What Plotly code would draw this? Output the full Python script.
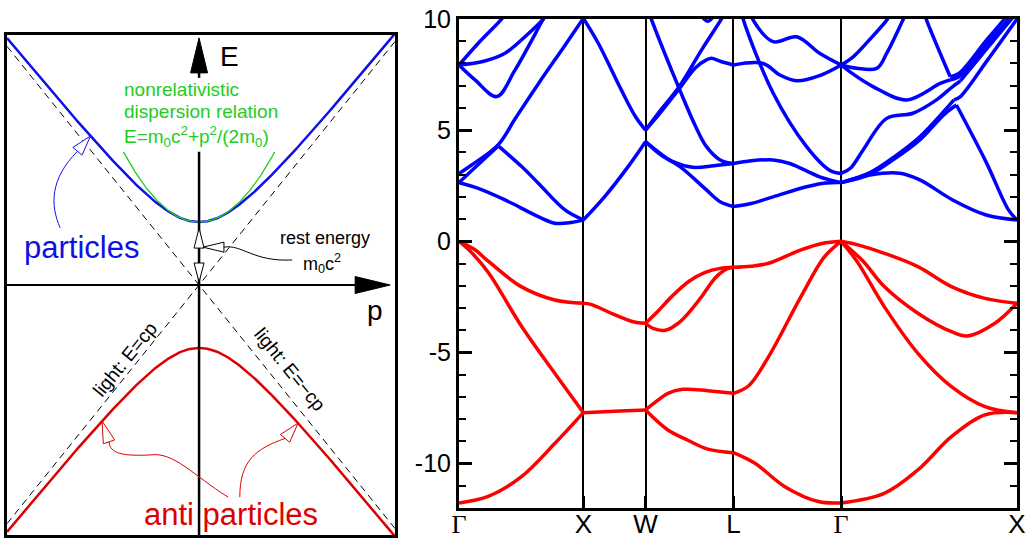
import numpy as np
import plotly.graph_objects as go

W_FIG, H_FIG = 1028, 540

# ---------------- Left panel: relativistic dispersion (schematic) ----------------
rest_energy = 0.261        # m0 c^2 in diagram units
c_light = 1.0
p_lim = [-0.99, 1.01]
E_lim = [-1.037, 1.037]
nonrel_pmax = 0.39

# ---------------- Right panel: band structure ----------------
k_labels = ["Γ", "X", "W", "L", "Γ", "X"]
k_pos = [0.0, 1.0, 1.5, 2.2071, 3.0731, 4.4873]
E_tick_vals = [-10, -5, 0, 5, 10]
E_tick_text = ["-10", "-5", "0", "5", "10"]

# valence bands (k, E) per path segment
vb_GX = [
    [(0, -11.77), (0.23, -11.49), (0.5, -10.6), (0.77, -9.1), (1, -7.71)],
    [(0, 0), (0.1, -0.5), (0.24, -1.44), (0.5, -3.8), (0.77, -5.94), (1, -7.71)],
    [(0, 0), (0.12, -0.35), (0.24, -0.92), (0.5, -2.04), (0.77, -2.64), (1, -2.79)],
]
vb_XW = [
    [(1, -7.71), (1.25, -7.65), (1.5, -7.59)],
    [(1, -2.79), (1.06, -2.84), (1.25, -3.3), (1.4, -3.62), (1.5, -3.69)],
]
vb_WL = [
    [(1.5, -7.59), (1.6, -7.15), (1.68, -6.84), (1.8, -6.66), (2.0, -6.72), (2.2071, -6.84)],
    [(1.5, -7.59), (1.68, -8.49), (1.84, -8.95), (2.0, -9.35), (2.2071, -9.51)],
    [(1.5, -3.69), (1.6, -3.15), (1.71, -2.49), (1.85, -1.8), (1.98, -1.4), (2.1, -1.22), (2.2071, -1.17)],
    [(1.5, -3.69), (1.56, -3.92), (1.66, -4.0), (1.76, -3.7), (1.85, -3.2), (1.95, -2.5), (2.06, -1.65),
     (2.15, -1.25), (2.2071, -1.17)],
]
vb_LG = [
    [(2.2071, -1.17), (2.35, -1.12), (2.49, -0.99), (2.75, -0.39), (2.92, -0.1), (3.0731, 0)],
    [(2.2071, -6.84), (2.33, -6.5), (2.49, -5.19), (2.75, -2.49), (2.94, -0.69), (3.0731, 0)],
    [(2.2071, -9.51), (2.38, -9.99), (2.62, -11.04), (2.89, -11.71), (3.0731, -11.77)],
]
vb_GX2 = [
    [(3.0731, -11.77), (3.42, -11.34), (3.69, -10.29), (3.96, -8.79), (4.23, -7.81), (4.4873, -7.71)],
    [(3.0731, 0), (3.2, -0.9), (3.42, -2.94), (3.69, -5.04), (3.96, -6.54), (4.23, -7.44), (4.4873, -7.71)],
    [(3.0731, 0), (3.25, -0.9), (3.42, -2.04), (3.69, -3.24), (3.96, -4.07), (4.09, -4.26), (4.31, -3.69),
     (4.4873, -2.79)],
    [(3.0731, 0), (3.2, -0.15), (3.42, -0.54), (3.69, -1.14), (3.96, -2.04), (4.23, -2.57), (4.4873, -2.79)],
]

# conduction bands (k, E) per path segment
cb_GX = [
    [(0, 2.64), (0.155, 2.38), (0.37, 1.86), (0.638, 1.11), (0.77, 0.81), (0.9, 0.84), (1, 0.96)],
    [(0, 2.64), (0.155, 3.45), (0.316, 4.29)],
    [(0.316, 4.29), (0.504, 3.36), (0.638, 2.61), (0.852, 1.41), (1, 0.96)],
    [(0, 3.05), (0.102, 3.43), (0.316, 4.35), (0.45, 5.5), (0.64, 7.1), (0.85, 8.8), (1, 10.03)],
    [(0, 7.93), (0.155, 8.91), (0.343, 10.0), (0.38, 10.3)],
    [(0, 7.93), (0.2, 8.1), (0.37, 8.46), (0.55, 9.3), (0.678, 10.0), (0.72, 10.3)],
    [(0, 7.93), (0.129, 7.26), (0.303, 6.51), (0.45, 7.7), (0.678, 10.0), (0.72, 10.4)],
]
cb_XW = [
    [(1, 0.96), (1.17, 2.0), (1.36, 3.36), (1.5, 4.48)],
    [(1, 10.03), (1.12, 8.91), (1.305, 6.81), (1.42, 5.6), (1.5, 5.0)],
]
cb_WL = [
    [(1.5, 5.0), (1.6, 5.65), (1.77, 6.85), (1.9, 7.8), (1.99, 8.16), (2.03, 8.23), (2.1, 8.1), (2.2071, 7.93)],
    [(1.5, 5.0), (1.6, 5.75), (1.77, 6.95), (1.95, 8.6), (2.11, 10.0), (2.15, 10.4)],
    [(1.52, 10.4), (1.546, 10.0), (1.77, 6.88), (1.9, 5.2), (1.99, 4.26), (2.1, 3.66), (2.2071, 3.5)],
    [(1.5, 4.48), (1.616, 3.96), (1.72, 3.58), (1.88, 3.33), (2.05, 3.4), (2.2071, 3.5)],
    [(1.5, 4.48), (1.62, 3.9), (1.777, 3.36), (1.99, 2.31), (2.1, 1.78), (2.2071, 1.56)],
    [(1.93, 10.3), (2.0, 9.9), (2.07, 10.3)],
]
cb_LG = [
    [(2.2071, 1.56), (2.35, 1.7), (2.527, 2.0), (2.795, 2.45), (2.95, 2.62), (3.0731, 2.64)],
    [(2.2071, 3.5), (2.35, 3.62), (2.527, 3.66), (2.66, 3.5), (2.9, 2.9), (3.0731, 2.64)],
    [(2.27, 10.4), (2.285, 10.0), (2.527, 6.66), (2.795, 4.26), (2.98, 3.2), (3.0731, 3.05)],
    [(2.2071, 7.93), (2.446, 8.0), (2.58, 7.48), (2.715, 7.22), (2.9, 7.45), (3.0731, 7.93)],
    [(2.35, 10.2), (2.366, 9.95), (2.527, 8.98), (2.715, 9.2), (2.9, 8.46), (3.0731, 7.93)],
]
cb_GX2 = [
    [(3.0731, 2.64), (3.304, 2.98), (3.545, 3.06), (3.706, 2.76), (3.97, 1.86), (4.24, 1.18), (4.4873, 0.96)],
    [(3.0731, 2.64), (3.3, 3.0), (3.5, 3.7), (3.706, 4.56), (3.9, 5.7), (4.0, 6.13)],
    [(4.0, 6.13), (4.24, 3.55), (4.42, 1.4), (4.4873, 0.96)],
    [(3.0731, 2.64), (3.3, 3.08), (3.5, 3.8), (3.706, 4.7), (3.9, 5.85), (3.98, 6.36)],
    [(3.98, 6.36), (4.03, 6.5), (4.25, 8.15), (4.4873, 10.0)],
    [(3.0731, 3.05), (3.15, 3.3), (3.25, 4.11), (3.44, 5.53), (3.65, 5.76), (3.84, 6.36), (3.97, 6.96), (4.03, 7.2)],
    [(4.03, 7.2), (4.25, 8.7), (4.4873, 10.3)],
    [(3.0731, 7.93), (3.15, 7.6), (3.33, 6.96), (3.6, 6.36), (3.87, 7.1), (3.95, 7.26)],
    [(3.95, 7.26), (4.02, 7.4), (4.25, 8.9), (4.4873, 10.4)],
    [(3.74, 10.3), (3.76, 9.95), (3.95, 7.4)],
    [(3.95, 7.4), (4.02, 7.55), (4.25, 9.1), (4.45, 10.4)],
    [(3.0731, 7.93), (3.2, 7.78), (3.36, 7.78), (3.44, 8.46), (3.57, 9.95), (3.6, 10.3)],
    [(3.0731, 7.93), (3.17, 8.3), (3.3, 9.06), (3.44, 9.95), (3.48, 10.3)],
]

valence = vb_GX + vb_XW + vb_WL + vb_LG + vb_GX2
conduction = cb_GX + cb_XW + cb_WL + cb_LG + cb_GX2

BLUE = "#0000ff"
RED = "#ff0000"
DBLUE = "#1010e6"
DRED = "#dd0000"
GREEN = "#22cc22"
FONT = "Liberation Sans, Arial, sans-serif"

# layout geometry (paper fractions)
L_DOM_X = [7 / W_FIG, 395 / W_FIG]
L_DOM_Y = [1 - 535 / H_FIG, 1 - 35 / H_FIG]
R_DOM_X = [459 / W_FIG, 1017 / W_FIG]
R_DOM_Y = [1 - 508 / H_FIG, 1 - 19 / H_FIG]

# pixel per data unit in left panel (for arrow-head geometry)
sx = (L_DOM_X[1] - L_DOM_X[0]) * W_FIG / (p_lim[1] - p_lim[0])
sy = (L_DOM_Y[1] - L_DOM_Y[0]) * H_FIG / (E_lim[1] - E_lim[0])


def join(curves):
    xs, ys = [], []
    for c in curves:
        for k, e in c:
            xs.append(k)
            ys.append(e)
        xs.append(None)
        ys.append(None)
    return xs, ys


fig = go.Figure()

# ----- left panel traces -----
p = np.linspace(p_lim[0], p_lim[1], 400)
E_part = np.sqrt(rest_energy ** 2 + (c_light * p) ** 2)
fig.add_trace(go.Scatter(x=[p_lim[0], p_lim[1]], y=[c_light * p_lim[0], c_light * p_lim[1]], mode="lines",
                         line=dict(color="black", width=1, dash="7px,5px"), xaxis="x", yaxis="y"))
fig.add_trace(go.Scatter(x=[p_lim[0], p_lim[1]], y=[-c_light * p_lim[0], -c_light * p_lim[1]], mode="lines",
                         line=dict(color="black", width=1, dash="7px,5px"), xaxis="x", yaxis="y"))
fig.add_trace(go.Scatter(x=p, y=E_part, mode="lines", line=dict(color=DBLUE, width=2.5), xaxis="x", yaxis="y"))
fig.add_trace(go.Scatter(x=p, y=-E_part, mode="lines", line=dict(color=DRED, width=2.5), xaxis="x", yaxis="y"))
pn = np.linspace(-nonrel_pmax, nonrel_pmax, 200)
E_nonrel = rest_energy + pn ** 2 / (2 * rest_energy)
fig.add_trace(go.Scatter(x=pn, y=E_nonrel, mode="lines", line=dict(color=GREEN, width=1.3), xaxis="x", yaxis="y"))

# ----- right panel traces -----
xv, yv = join(valence)
xc, yc = join(conduction)
fig.add_trace(go.Scatter(x=xv, y=yv, mode="lines", line=dict(color=RED, width=3.5, shape="spline", smoothing=1),
                         xaxis="x2", yaxis="y2"))
fig.add_trace(go.Scatter(x=xc, y=yc, mode="lines", line=dict(color=BLUE, width=3.5, shape="spline", smoothing=1),
                         xaxis="x2", yaxis="y2"))

# ----- left panel decorations -----
shapes = []


def seg(x0, y0, x1, y1, color="black", width=2):
    shapes.append(dict(type="line", xref="x", yref="y", x0=x0, y0=y0, x1=x1, y1=y1,
                       line=dict(color=color, width=width)))


def head(tip, direction, length, half, color, fill):
    d = np.array(direction, float)
    d /= np.linalg.norm(d)
    n = np.array([-d[1], d[0]])
    bx, by = tip[0] - d[0] * length / sx, tip[1] - d[1] * length / sy
    ax_, ay_ = bx + n[0] * half / sx, by + n[1] * half / sy
    cx_, cy_ = bx - n[0] * half / sx, by - n[1] * half / sy
    shapes.append(dict(type="path", xref="x", yref="y",
                       path=f"M {tip[0]},{tip[1]} L {ax_},{ay_} L {cx_},{cy_} Z",
                       line=dict(color=color, width=1), fillcolor=fill))
    return bx, by


def bez(pts, color, width=1):
    s = f"M {pts[0][0]},{pts[0][1]}"
    for i in range(1, len(pts), 3):
        s += f" C {pts[i][0]},{pts[i][1]} {pts[i+1][0]},{pts[i+1][1]} {pts[i+2][0]},{pts[i+2][1]}"
    shapes.append(dict(type="path", xref="x", yref="y", path=s, line=dict(color=color, width=width)))


# axes of the diagram
E_top_line = rest_energy + nonrel_pmax ** 2 / (2 * rest_energy)
seg(0, E_lim[0], 0, E_top_line, width=2.5)
seg(0, 0.859, 0, 0.885, width=2.5)
seg(p_lim[0], 0, 0.81, 0, width=2)
head((0, 1.025), (0, 1), 35, 8.5, "black", "black")
head((0.985, 0), (1, 0), 35, 8.5, "black", "black")

# rest energy double arrow and pointer
head((0, rest_energy - 6 / sy), (0, 1), 20, 5, "black", "white")
head((0, 3 / sy), (0, -1), 19, 5, "black", "white")
rb = head((0.02, 0.157), (-1, 0), 21, 5, "black", "white")
bez([rb, (0.22, 0.17), (0.28, 0.095), (0.48, 0.104)], "black")

# particles arrow
p_b = -0.56
tipb = (p_b, float(np.sqrt(rest_energy ** 2 + p_b ** 2)))
bb = head(tipb, (0.648, 0.762), 20, 6, DBLUE, "white")
bez([bb, (-0.768, 0.44), (-0.768, 0.332), (-0.716, 0.237)], DBLUE)

# antiparticles arrows
p_l = -0.50
tipl = (p_l, -float(np.sqrt(rest_energy ** 2 + p_l ** 2)))
bl = head(tipl, (-0.316, 0.949), 22, 6, DRED, "white")
bez([bl, (-0.46, -0.7), (-0.39, -0.71), (-0.253, -0.705),
     (-0.13, -0.69), (-0.03, -0.79), (0.15, -0.88)], DRED)
p_r = 0.51
tipr = (p_r, -float(np.sqrt(rest_energy ** 2 + p_r ** 2)))
br = head(tipr, (0.646, 0.763), 20, 6, DRED, "white")
bez([br, (0.29, -0.68), (0.21, -0.73), (0.21, -0.88)], DRED)

annotations = []


def txt(x, y, s, size, color="black", angle=0, xanchor="center"):
    annotations.append(dict(x=x, y=y, xref="x", yref="y", text=s, showarrow=False, textangle=angle,
                            xanchor=xanchor, yanchor="middle",
                            font=dict(family=FONT, size=size, color=color)))


txt(0.155, 0.946, "E", 28)
txt(0.907, -0.105, "p", 28)
txt(-0.397, 0.81, "nonrelativistic", 19, GREEN, xanchor="left")
txt(-0.397, 0.72, "dispersion relation", 19, GREEN, xanchor="left")
txt(-0.397, 0.615, "E=m<sub>0</sub>c<sup>2</sup>+p<sup>2</sup>/(2m<sub>0</sub>)", 19, GREEN, xanchor="left")
txt(-0.608, 0.154, "particles", 31, DBLUE)
txt(0.65, 0.195, "rest energy", 18)
txt(0.634, 0.09, "m<sub>0</sub>c<sup>2</sup>", 18)
txt(0.165, -0.95, "anti particles", 31, DRED)
txt(-0.381, -0.311, "light: E=cp", 19, angle=-51)
txt(0.469, -0.349, "light: E=−cp", 19, angle=51)

ticktext_k = ['<span style="font-family:Liberation Serif">Γ</span>' if s == "Γ" else s for s in k_labels]

fig.update_layout(
    width=W_FIG, height=H_FIG,
    margin=dict(l=0, r=0, t=0, b=0, autoexpand=False),
    paper_bgcolor="white", plot_bgcolor="white",
    showlegend=False,
    shapes=shapes, annotations=annotations,
    xaxis=dict(domain=L_DOM_X, range=p_lim, showgrid=False, zeroline=False, showticklabels=False,
               ticks="", showline=True, mirror=True, linecolor="black", linewidth=3, fixedrange=True,
               automargin=False),
    yaxis=dict(domain=L_DOM_Y, range=E_lim, showgrid=False, zeroline=False, showticklabels=False,
               ticks="", showline=True, mirror=True, linecolor="black", linewidth=3, fixedrange=True,
               automargin=False),
    xaxis2=dict(domain=R_DOM_X, range=[k_pos[0], k_pos[-1]], anchor="y2", automargin=False,
                tickmode="array", tickvals=k_pos, ticktext=ticktext_k, ticklabelstandoff=-9,
                ticks="inside", ticklen=12, tickwidth=3, tickcolor="black",
                showgrid=True, gridcolor="black", gridwidth=2, zeroline=False,
                showline=True, mirror=True, linecolor="black", linewidth=3,
                tickfont=dict(family=FONT, size=26, color="black")),
    yaxis2=dict(domain=R_DOM_Y, range=[-12, 10], anchor="x2", automargin=False,
                tickmode="array", tickvals=E_tick_vals, ticktext=E_tick_text,
                ticks="inside", ticklen=13, tickwidth=3, tickcolor="black",
                minor=dict(dtick=1, ticks="inside", ticklen=7, tickwidth=2, tickcolor="black", showgrid=False),
                showgrid=False, zeroline=False,
                showline=True, mirror="allticks", linecolor="black", linewidth=3,
                tickfont=dict(family=FONT, size=25, color="black")),
)

fig.write_html("out.html")
